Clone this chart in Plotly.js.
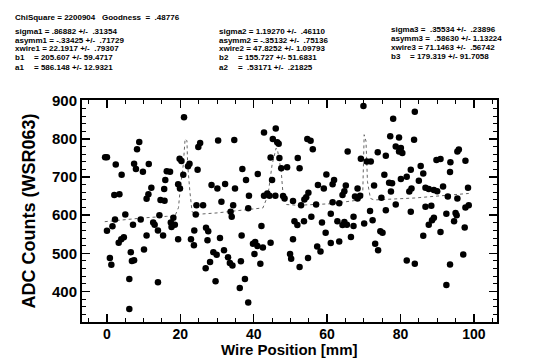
<!DOCTYPE html>
<html>
<head>
<meta charset="utf-8">
<script src="https://cdn.plot.ly/plotly-3.0.1.min.js"></script>
<style>
  html, body { margin: 0; padding: 0; background: #fff; }
  #chart { width: 541px; height: 360px; }
</style>
</head>
<body>
<div id="chart"></div>
<script>
// Measured ADC counts per wire position
const wirePos = [
  -0.5, 0.0, 8.8, 8.2, 2.4, 7.4, 7.9, 9.8, 11.4, 4.0, 12.1, 2.0, 3.4, 10.8, 11.3, 14.6, 15.7, 16.3, 15.9, 15.6,
  5.0, 2.2, 1.5, 0.0, 7.1, 9.2, 12.6, 13.0, 14.3, 10.8, 13.9, 15.3, 3.2, 3.9, 4.6, 10.1, 6.5, 6.8, 7.4, 0.8,
  1.2, 6.1, 13.9, 6.1,
  21.0, 24.9, 25.4, 30.3, 34.7, 19.8, 20.3, 22.5, 22.1, 17.2, 20.8, 24.7, 19.4, 19.9, 36.9, 37.9, 28.5, 30.1, 32.2, 34.9,
  38.7, 24.4, 26.2, 31.2, 34.4, 24.2, 33.7, 34.0, 38.5, 18.1, 17.4, 18.5, 17.6, 19.4, 22.9, 23.8, 23.7, 27.0, 27.6, 27.4,
  30.8, 29.0, 29.9, 31.9, 33.0, 34.2, 33.5, 36.5, 28.1, 26.9, 36.7, 37.6, 36.2, 29.6, 38.5,
  42.8, 46.0, 45.2, 46.4, 46.8, 54.6, 55.5, 56.1, 44.6, 47.0, 52.0, 47.5, 49.1, 52.5, 41.1, 45.0, 59.8, 57.5, 59.1, 54.9,
  54.3, 53.8, 42.8, 43.7, 44.3, 45.9, 48.0, 48.4, 50.7, 57.0, 52.9, 61.0, 42.1, 51.1, 51.9, 53.7, 55.7, 58.6, 59.6, 61.0,
  39.8, 40.4, 41.0, 42.5, 44.6, 40.2, 41.8, 50.7, 49.9, 50.2, 52.5, 54.8, 57.3, 58.2,
  69.9, 78.0, 83.9, 77.2, 79.6, 83.7, 78.7, 80.1, 79.6, 80.5, 65.6, 73.8, 76.0, 69.2, 70.8, 71.9, 82.8, 75.6, 81.7, 80.1,
  76.9, 77.7, 61.9, 61.5, 72.8, 83.0, 82.4, 65.1, 64.7, 64.2, 68.3, 67.6, 68.3, 69.0, 77.4, 74.8, 78.7, 61.5, 63.3, 76.0,
  71.7, 82.8, 67.2, 62.8, 64.7, 65.4, 64.2, 70.1, 72.4, 67.2, 74.5, 75.1, 66.5, 63.3, 73.1, 73.9, 81.7, 83.9,
  95.9, 95.5, 89.8, 90.9, 93.6, 97.7, 85.5, 93.5, 86.2, 85.0, 86.8, 87.7, 89.1, 90.0, 91.6, 98.4, 92.9, 95.5, 86.8, 88.4,
  97.7, 98.6, 92.5, 95.0, 95.3, 89.1, 88.6, 87.7, 94.6, 97.5, 90.9, 86.2, 97.1, 93.5, 92.5
];
const adcCounts = [
  752, 752, 792, 773, 733, 735, 721, 714, 734, 706, 672, 653, 655, 643, 655, 640, 638, 715, 692, 669,
  602, 589, 571, 559, 575, 589, 581, 575, 600, 547, 560, 547, 528, 537, 542, 510, 503, 480, 482, 488,
  470, 433, 424, 354,
  857, 779, 789, 796, 797, 748, 742, 735, 728, 714, 706, 719, 681, 670, 721, 692, 679, 670, 682, 670,
  651, 626, 626, 635, 626, 602, 609, 596, 618, 593, 581, 575, 569, 537, 537, 560, 521, 567, 558, 534,
  540, 503, 496, 508, 490, 468, 475, 479, 477, 461, 547, 433, 409, 427, 371,
  817, 827, 800, 791, 787, 800, 795, 773, 751, 750, 750, 723, 726, 723, 708, 692, 707, 679, 670, 659,
  647, 641, 651, 657, 651, 651, 650, 644, 637, 628, 626, 604, 572, 584, 574, 584, 596, 581, 554, 527,
  525, 530, 519, 515, 528, 498, 473, 537, 498, 486, 464, 488, 518, 505,
  886, 853, 871, 807, 804, 798, 780, 776, 767, 763, 767, 765, 756, 748, 741, 741, 719, 706, 701, 695,
  685, 684, 692, 681, 678, 670, 662, 678, 663, 653, 670, 649, 644, 651, 662, 646, 628, 634, 631, 613,
  611, 609, 596, 584, 582, 575, 574, 578, 587, 572, 558, 554, 543, 531, 525, 508, 481, 473,
  772, 767, 745, 747, 739, 743, 729, 713, 709, 690, 672, 669, 666, 663, 675, 672, 649, 644, 622, 625,
  620, 626, 604, 606, 600, 593, 587, 575, 584, 568, 556, 546, 497, 471, 417
];

// Three-peak fit curve
const fitPos = [-0.6, 5, 10, 16.3, 18.5, 19.5, 19.9, 20.8, 21.3, 21.8, 22.0, 22.6, 23.2, 24.2, 30, 38.5,
  42.5, 43.9, 45.0, 46.1, 46.5, 47.5, 48.0, 48.9, 52.0, 61.0, 68.8, 69.7, 70.1, 70.6, 71.0, 71.8, 72.8, 83.7, 98.6];
const fitCounts = [583, 589, 593, 597, 597, 620, 662, 732, 800, 795, 732, 662, 609, 602, 606, 615,
  619, 653, 732, 776, 770, 714, 653, 628, 626, 630, 640, 653, 811, 794, 688, 644, 640, 645, 657];

// Fit summary lines
const summaryTop = 'ChiSquare = 2200904   Goodness  =  .48776';
const fitLabels1 = ['sigma1 = .86882 +/-  .31354', 'asymm1 = -.33425 +/-  .71729', 'xwire1 = 22.1917 +/-  .79307'];
const fitTail1 = [['b1', '= 205.607 +/- 59.4717'], ['a1', '= 586.148 +/- 12.9321']];
const fitLabels2 = ['sigma2 = 1.19270 +/-  .46110', 'asymm2 = -.35132 +/-  .75136', 'xwire2 = 47.8252 +/- 1.09793'];
const fitTail2 = [['b2', '= 155.727 +/- 51.6831'], ['a2', '=  .53171 +/-  .21825']];
const fitLabels3 = ['sigma3 =  .35534 +/-  .23896', 'asymm3 =  .58630 +/- 1.13224', 'xwire3 = 71.1463 +/-  .56742'];
const fitTail3 = [['b3', '= 179.319 +/- 91.7058']];

const xTitle = 'Wire Position [mm]';
const yTitle = 'ADC Counts (WSR063)';
const xTicks = [0, 20, 40, 60, 80, 100];
const yTicks = [400, 500, 600, 700, 800, 900];

const W = 541, H = 360;
const M = {l: 82, r: 44, t: 100, b: 38};
const PW = W - M.l - M.r, PH = H - M.t - M.b;
const px = x => (x - M.l) / PW;
const py = y => (H - M.b - y) / PH;

const hdrFont = {family: 'Liberation Sans Narrow, Liberation Sans, sans-serif', size: 8, color: '#000', weight: 'bold'};
const annotations = [];
function label(text, x, y) {
  annotations.push({text: text, x: px(x), y: py(y), xref: 'paper', yref: 'paper',
    xanchor: 'left', yanchor: 'middle', showarrow: false, borderpad: 0, font: hdrFont});
}
label(summaryTop, 14, 17);
const rows = [31, 40, 49, 58, 67];
function column(lines, tail, x0, eqOffset, r0) {
  lines.forEach((t, i) => label(t, x0, rows[i] + r0));
  tail.forEach((pair, j) => {
    label(pair[0], x0, rows[lines.length + j] + r0);
    label(pair[1], x0 + eqOffset, rows[lines.length + j] + r0);
  });
}
column(fitLabels1, fitTail1, 14, 19, 0);
column(fitLabels2, fitTail2, 218, 19, 0);
column(fitLabels3, fitTail3, 390, 19, -1);

// x-axis title, set just under the tick labels
annotations.push({text: xTitle, x: 0.5, y: py(359), xref: 'paper', yref: 'paper',
  xanchor: 'center', yanchor: 'bottom', showarrow: false, borderpad: 0,
  font: {family: 'Liberation Sans, Arial, sans-serif', size: 15, color: '#000', weight: 'bold'}});

const data = [
  {
    x: fitPos, y: fitCounts, type: 'scatter', mode: 'lines',
    line: {color: '#666', width: 1, dash: 'dot'}, hoverinfo: 'skip'
  },
  {
    x: wirePos, y: adcCounts, type: 'scatter', mode: 'markers',
    marker: {color: '#000', size: 6.5, symbol: 'circle'}
  }
];

const tickFont = {family: 'Liberation Sans Narrow, Liberation Sans, sans-serif', size: 15, color: '#000', weight: 'bold'};
const layout = {
  width: W, height: H,
  margin: M,
  paper_bgcolor: '#fff', plot_bgcolor: '#fff',
  showlegend: false,
  xaxis: {
    range: [-6.8, 106.3],
    tickvals: xTicks, ticktext: xTicks.map(String),
    ticks: 'inside', ticklen: 8, tickwidth: 1.5, tickcolor: '#000',
    minor: {dtick: 5, tick0: 0, ticks: 'inside', ticklen: 4, tickcolor: '#000', tickwidth: 1},
    showline: true, linecolor: '#000', linewidth: 2, mirror: 'ticks',
    showgrid: false, zeroline: false,
    ticklabelstandoff: -2,
    tickfont: Object.assign({}, tickFont, {size: 14})
  },
  yaxis: {
    range: [320, 902],
    tickvals: yTicks, ticktext: yTicks.map(String),
    ticks: 'inside', ticklen: 8, tickwidth: 1.5, tickcolor: '#000',
    minor: {dtick: 20, tick0: 0, ticks: 'inside', ticklen: 4, tickcolor: '#000', tickwidth: 1},
    showline: true, linecolor: '#000', linewidth: 2, mirror: 'ticks',
    showgrid: false, zeroline: false,
    tickfont: tickFont,
    title: {text: yTitle, standoff: 12,
      font: {family: 'Liberation Sans, Arial, sans-serif', size: 18, color: '#000', weight: 'bold'}}
  },
  annotations: annotations
};

Plotly.newPlot('chart', data, layout, {staticPlot: true, displayModeBar: false});
</script>
</body>
</html>
